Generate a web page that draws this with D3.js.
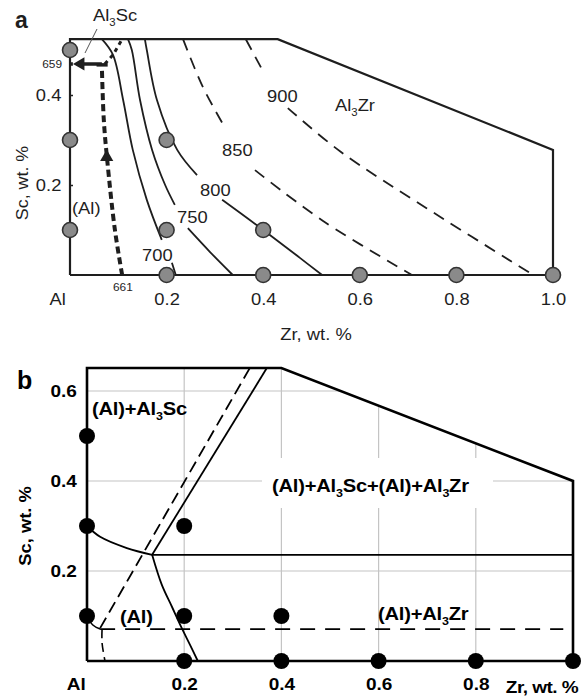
<!DOCTYPE html>
<html><head><meta charset="utf-8">
<script src="https://cdn.jsdelivr.net/npm/d3@7"></script>
<style>
body{margin:0;background:#fff;}
svg{display:block;}
text{font-family:"Liberation Sans",Arial,sans-serif;}
</style></head><body>
<svg id="c" width="583" height="700"></svg>
<script>
// ---------- Panel a data (Zr wt.%, Sc wt.%) ----------
const aBorder = [[0,0],[0,0.524],[0.43,0.524],[1.0,0.278],[1.0,0],[0,0]];
const aIso700 = [[0.066,0.524],[0.089,0.489],[0.110,0.389],[0.130,0.278],[0.159,0.167],[0.190,0.078],null,[0.211,0.027],[0.219,0]];
const aIso750 = [[0.120,0.524],[0.128,0.5],[0.145,0.389],[0.170,0.278],[0.197,0.2],[0.217,0.156],null,[0.244,0.104],[0.290,0.051],[0.337,0]];
const aIso800 = [[0.155,0.524],[0.159,0.5],[0.180,0.389],[0.222,0.278],[0.263,0.222],null,[0.315,0.167],[0.4,0.1],[0.476,0.038],[0.522,0]];
const aIso850 = [[0.234,0.524],[0.275,0.418],[0.321,0.327],null,[0.383,0.233],[0.524,0.12],[0.708,0]];
const aIso900 = [[0.364,0.524],[0.398,0.456],null,[0.451,0.371],[0.559,0.275],[0.739,0.148],[0.959,0]];
const aPath661 = [[0.108,0],[0.093,0.1],[0.077,0.256],[0.070,0.344],[0.066,0.462]];
const aPathEut = [[0.072,0.469],[0.089,0.489],[0.108,0.524]];
const aPath659 = [[0.066,0.469],[0.0,0.469]];
const aPtZr = [0,0,0,0.2,0.2,0.2,0.4,0.4,0.6,0.8,1.0];
const aPtSc = [0.1,0.3,0.5,0.3,0.1,0,0.1,0,0,0,0];
const aIsoLabels = ["700","750","800","850","900"];
const aXTicks = [0,0.2,0.4,0.6,0.8,1.0];
const aXTickLabels = ["Al","0.2","0.4","0.6","0.8","1.0"];
const aYTicks = [0.2,0.4];
const aYTickLabels = ["0.2","0.4"];

// ---------- Panel b data ----------
const bBorder = [[0,0],[0,0.651],[0.4,0.651],[1.0,0.4],[1.0,0],[0,0]];
const bSolidDiag = [[0.134,0.236],[0.370,0.651]];
const bDashDiag = [[0.027,0.073],[0.335,0.651]];
const bCurveTop = [[0,0.3],[0.027,0.276],[0.082,0.251],[0.134,0.236]];
const bSolidHoriz = [[0.134,0.236],[1.0,0.236]];
const bCurveDown = [[0.134,0.236],[0.154,0.169],[0.175,0.12],[0.195,0.073],[0.212,0.036],[0.228,0]];
const bDashHoriz = [[0.027,0.071],[0.98,0.071]];
const bSmallCurve = [[0,0.1],[0.012,0.08],[0.027,0.071]];
const bDashVert = [[0.031,0.071],[0.031,0.04],[0.037,0]];
const bPtZr = [0,0,0,0.2,0.2,0.4,0.2,0.4,0.6,0.8,1.0];
const bPtSc = [0.5,0.3,0.1,0.3,0.1,0.1,0,0,0,0,0];
const bGridX = [0.2,0.4,0.6,0.8];
const bGridY = [0.2,0.4,0.6];
const bXTicks = [0,0.2,0.4,0.6,0.8];
const bXTickLabels = ["Al","0.2","0.4","0.6","0.8"];
const bYTicks = [0.2,0.4,0.6];
const bYTickLabels = ["0.2","0.4","0.6"];

const svg = d3.select("#c");
const INK = "#1e1e1e";
const SXA = 1.08, SXB = 1.12;

function subText(sel, parts, size){
  parts.forEach((p,i)=>{
    const isSub = /^\d$/.test(p);
    const prevSub = i>0 && /^\d$/.test(parts[i-1]);
    sel.append("tspan")
      .attr("font-size", isSub ? size*0.62 : size)
      .attr("dy", isSub ? size*0.28 : (prevSub ? -size*0.28 : 0))
      .text(p);
  });
  return sel;
}
function txt(g, x, y, sx, extra){
  return g.append("text").attr("transform",`translate(${x},${y}) ${extra||""} scale(${sx},1)`);
}

// ================= Panel a =================
const xA = d3.scaleLinear().domain([0,1]).range([70,553]);
const yA = d3.scaleLinear().domain([0,0.5]).range([275,50]);
const lineA = d3.line().defined(d=>d).x(d=>xA(d[0])).y(d=>yA(d[1]));
const curveA = d3.line().defined(d=>d).x(d=>xA(d[0])).y(d=>yA(d[1])).curve(d3.curveCatmullRom.alpha(0.5));
const gA = svg.append("g");

gA.append("path").attr("d", lineA(aBorder)).attr("fill","none").attr("stroke",INK).attr("stroke-width",2.2);
[aIso700,aIso750,aIso800].forEach(d=>{
  gA.append("path").attr("d",curveA(d)).attr("fill","none").attr("stroke",INK).attr("stroke-width",1.8);
});
[aIso850,aIso900].forEach(d=>{
  gA.append("path").attr("d",curveA(d)).attr("fill","none").attr("stroke",INK).attr("stroke-width",1.8).attr("stroke-dasharray","12,8");
});
gA.append("path").attr("d",curveA(aPath661)).attr("fill","none").attr("stroke",INK).attr("stroke-width",4).attr("stroke-dasharray","7,4");
gA.append("path").attr("d",lineA(aPathEut)).attr("fill","none").attr("stroke",INK).attr("stroke-width",3).attr("stroke-dasharray","4,4");
gA.append("path").attr("d",lineA(aPath659)).attr("fill","none").attr("stroke",INK).attr("stroke-width",3.5).attr("stroke-dasharray","18,4,3,4");
gA.append("path").attr("d",lineA([[0.055,0.467],[0.078,0.467]])).attr("stroke",INK).attr("stroke-width",3.5);
gA.append("path").attr("d",d3.symbol(d3.symbolTriangle,75)())
  .attr("transform",`translate(${xA(0.076)},${yA(0.262)})`).attr("fill",INK);
gA.append("path").attr("d",d3.symbol(d3.symbolTriangle,75)())
  .attr("transform",`translate(${xA(0.022)},${yA(0.469)}) rotate(-90)`).attr("fill",INK);

gA.selectAll("circle.pa").data(aPtZr.map((z,i)=>[z,aPtSc[i]])).join("circle")
  .attr("cx",d=>xA(d[0])).attr("cy",d=>yA(d[1])).attr("r",7.5)
  .attr("fill","#8a8a8a").attr("stroke","#333").attr("stroke-width",1.6);

const axAx = d3.axisBottom(xA).tickValues(aXTicks).tickFormat((d,i)=>aXTickLabels[i]).tickSize(0).tickPadding(18);
gA.append("g").attr("transform","translate(0,275)").call(axAx)
  .call(g=>g.select(".domain").remove())
  .call(g=>g.selectAll("text").attr("font-size",17).attr("fill",INK).attr("font-family","Liberation Sans, Arial, sans-serif").attr("transform",`scale(${SXA},1)`))
  .call(g=>g.selectAll(".tick").filter(d=>d===0).select("text").attr("dx",-12));
const ayAx = d3.axisLeft(yA).tickValues(aYTicks).tickFormat((d,i)=>aYTickLabels[i]).tickSize(-3).tickPadding(8);
gA.append("g").attr("transform","translate(70,0)").call(ayAx)
  .call(g=>g.select(".domain").remove())
  .call(g=>g.selectAll("line").attr("stroke",INK).attr("stroke-width",1.5))
  .call(g=>g.selectAll("text").attr("font-size",17).attr("fill",INK).attr("font-family","Liberation Sans, Arial, sans-serif").attr("transform",`scale(${SXA},1)`));

txt(gA,15,28,1).attr("font-size",23).attr("font-weight","bold").attr("fill",INK).text("a");
subText(txt(gA,93,21,SXA).attr("fill",INK), ["Al","3","Sc"], 17);
gA.append("line").attr("x1",97).attr("y1",29).attr("x2",85).attr("y2",53).attr("stroke","#555").attr("stroke-width",1);
txt(gA,62,68,SXA).attr("text-anchor","end").attr("font-size",11).attr("fill",INK).text("659");
txt(gA,113,291,SXA).attr("font-size",11).attr("fill",INK).text("661");
txt(gA,72,214,SXA).attr("font-size",17).attr("fill",INK).text("(Al)");
const isoPos = [[142,261],[177,223],[200,196],[222,156],[267,102]];
aIsoLabels.forEach((t,i)=>{
  txt(gA,isoPos[i][0],isoPos[i][1],SXA).attr("font-size",17).attr("fill",INK).text(t);
});
subText(txt(gA,335,111,SXA).attr("fill",INK), ["Al","3","Zr"], 17);
txt(gA,316,340,SXA).attr("text-anchor","middle").attr("font-size",17).attr("fill",INK).text("Zr, wt. %");
gA.append("text").attr("transform","translate(28,183) rotate(-90) scale(1.05,1)").attr("text-anchor","middle").attr("font-size",17).attr("fill",INK).text("Sc, wt. %");

// ================= Panel b =================
const xB = d3.scaleLinear().domain([0,1]).range([87,573]);
const yB = d3.scaleLinear().domain([0,0.6]).range([661,391]);
const lineB = d3.line().x(d=>xB(d[0])).y(d=>yB(d[1]));
const curveB = d3.line().x(d=>xB(d[0])).y(d=>yB(d[1])).curve(d3.curveCatmullRom.alpha(0.5));
const gB = svg.append("g");

svg.append("defs").append("clipPath").attr("id","clipB").append("path").attr("d",lineB(bBorder)+"Z");
const grid = gB.append("g").attr("clip-path","url(#clipB)");
grid.selectAll("line.gx").data(bGridX).join("line")
  .attr("x1",d=>xB(d)).attr("x2",d=>xB(d)).attr("y1",yB(0)).attr("y2",yB(0.651))
  .attr("stroke","#c4c4c4").attr("stroke-width",1.2);
grid.selectAll("line.gy").data(bGridY).join("line")
  .attr("y1",d=>yB(d)).attr("y2",d=>yB(d)).attr("x1",xB(0)).attr("x2",xB(1))
  .attr("stroke","#c4c4c4").attr("stroke-width",1.2);
gB.append("rect").attr("x",262).attr("y",458).attr("width",231).attr("height",50).attr("fill","#fff");

gB.append("path").attr("d",lineB(bBorder)).attr("fill","none").attr("stroke","#000").attr("stroke-width",2.6);
gB.append("path").attr("d",lineB(bSolidDiag)).attr("fill","none").attr("stroke","#000").attr("stroke-width",1.8);
gB.append("path").attr("d",lineB(bDashDiag)).attr("fill","none").attr("stroke","#000").attr("stroke-width",1.8).attr("stroke-dasharray","12,6");
gB.append("path").attr("d",curveB(bCurveTop)).attr("fill","none").attr("stroke","#000").attr("stroke-width",1.8);
gB.append("path").attr("d",lineB(bSolidHoriz)).attr("fill","none").attr("stroke","#000").attr("stroke-width",1.8);
gB.append("path").attr("d",curveB(bCurveDown)).attr("fill","none").attr("stroke","#000").attr("stroke-width",1.8);
gB.append("path").attr("d",lineB(bDashHoriz)).attr("fill","none").attr("stroke","#000").attr("stroke-width",1.8).attr("stroke-dasharray","15,10");
gB.append("path").attr("d",curveB(bSmallCurve)).attr("fill","none").attr("stroke","#000").attr("stroke-width",1.6);
gB.append("path").attr("d",curveB(bDashVert)).attr("fill","none").attr("stroke","#000").attr("stroke-width",1.6).attr("stroke-dasharray","9,5");

gB.selectAll("circle.pb").data(bPtZr.map((z,i)=>[z,bPtSc[i]])).join("circle")
  .attr("cx",d=>xB(d[0])).attr("cy",d=>yB(d[1])).attr("r",8).attr("fill","#000");

const bxAx = d3.axisBottom(xB).tickValues(bXTicks).tickFormat((d,i)=>bXTickLabels[i]).tickSize(0).tickPadding(17);
gB.append("g").attr("transform","translate(0,661)").call(bxAx)
  .call(g=>g.select(".domain").remove())
  .call(g=>g.selectAll("text").attr("font-size",17).attr("font-weight","bold").attr("fill","#000").attr("font-family","Liberation Sans, Arial, sans-serif").attr("transform",`scale(${SXB},1)`))
  .call(g=>g.selectAll(".tick").filter(d=>d===0).select("text").attr("dx",-10));
const byAx = d3.axisLeft(yB).tickValues(bYTicks).tickFormat((d,i)=>bYTickLabels[i]).tickSize(0).tickPadding(9);
gB.append("g").attr("transform","translate(87,0)").call(byAx)
  .call(g=>g.select(".domain").remove())
  .call(g=>g.selectAll("text").attr("font-size",17).attr("font-weight","bold").attr("fill","#000").attr("font-family","Liberation Sans, Arial, sans-serif").attr("transform",`scale(${SXB},1)`));

const bt = (x,y,parts,anchor)=>subText(txt(gB,x,y,SXB).attr("font-weight","bold").attr("fill","#000").attr("letter-spacing",-0.2).attr("text-anchor",anchor||"start"), parts, 18);
txt(gB,17,389,1).attr("font-size",25).attr("font-weight","bold").attr("fill","#000").text("b");
bt(92,415,["(Al)+Al","3","Sc"]);
bt(272,492,["(Al)+Al","3","Sc+(Al)+Al","3","Zr"]);
bt(120,623,["(Al)"]);
bt(378,620,["(Al)+Al","3","Zr"]);
txt(gB,578,693,SXB).attr("text-anchor","end").attr("font-size",17).attr("font-weight","bold").attr("letter-spacing",-0.5).attr("fill","#000").text("Zr, wt. %");
gB.append("text").attr("transform","translate(31,526) rotate(-90) scale(1.08,1)").attr("text-anchor","middle").attr("font-size",17).attr("font-weight","bold").attr("fill","#000").text("Sc, wt. %");
</script>
</body></html>
